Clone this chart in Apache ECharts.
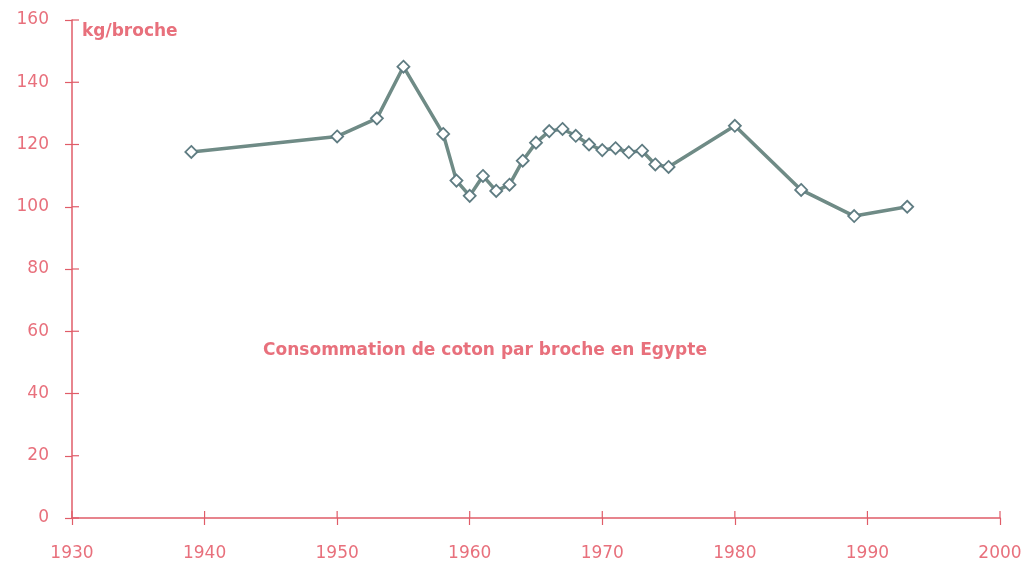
<!DOCTYPE html>
<html><head><meta charset="utf-8">
<script src="https://cdn.jsdelivr.net/npm/echarts@6/dist/echarts.min.js"></script>
<style>html,body{margin:0;padding:0;background:#fff}#c{width:1033px;height:563px}</style>
</head><body><div id="c"></div>
<script>
const years = [1939,1950,1953,1955,1958,1959,1960,1961,1962,1963,1964,1965,1966,1967,1968,1969,1970,1971,1972,1973,1974,1975,1980,1985,1989,1993];
const values = [117.6,122.6,128.4,145,123.4,108.4,103.5,109.9,105.1,107.1,114.8,120.6,124.3,125,122.8,120,118.2,118.8,117.5,118,113.6,112.8,126,105.4,97,100];
const xTicks = [1930,1940,1950,1960,1970,1980,1990,2000];
const yTicks = [0,20,40,60,80,100,120,140,160];
const titleText = 'Consommation de coton par broche en Egypte';
const unitText = 'kg/broche';

const pink = '#e8707c';
const axisCol = '#e05c68';
const font = 'DejaVu Sans';

const chart = echarts.init(document.getElementById('c'));
const L = 72, R = 33, T = 20, B = 45;
const tick = {show:true,length:7,lineStyle:{color:axisCol,width:1.2}};
const line = {show:true,onZero:false,lineStyle:{color:axisCol,width:1.5}};
// inner halves of the tick marks (ticks cross the axis line)
const innerTicks = xTicks.map(v=>[v,0,'x']).concat(yTicks.map(v=>[1930,v,'y']));
chart.setOption({
  animation:false,
  backgroundColor:'#fff',
  title:{text:titleText,left:480,top:337,textAlign:'center',
    textStyle:{color:pink,fontFamily:font,fontSize:17,fontWeight:'bold'}},
  grid:{left:L,right:R,top:T,bottom:B},
  xAxis:{type:'value',min:1930,max:2000,interval:10,
    axisLine:line,splitLine:{show:false},axisTick:tick,
    axisLabel:{color:pink,fontFamily:font,fontSize:17,margin:27,formatter:v=>xTicks.includes(v)?String(v):''}},
  yAxis:{type:'value',min:0,max:160,interval:20,
    axisLine:line,splitLine:{show:false},
    name:unitText,nameLocation:'end',nameGap:-12,
    nameTextStyle:{color:pink,fontFamily:font,fontSize:17,fontWeight:'bold',align:'left',verticalAlign:'middle',padding:[0,0,0,10]},
    axisTick:tick,
    axisLabel:{color:pink,fontFamily:font,fontSize:17,margin:23,formatter:v=>yTicks.includes(v)?String(v):''}},
  series:[{type:'custom',silent:true,clip:false,data:innerTicks,
    renderItem:(params,api)=>{
      const p = api.coord([api.value(0),api.value(1)]);
      const isX = innerTicks[params.dataIndex][2]==='x';
      const shape = isX ? {x1:p[0],y1:p[1],x2:p[0],y2:p[1]-7} : {x1:p[0],y1:p[1],x2:p[0]+7,y2:p[1]};
      return {type:'line',shape,style:{stroke:axisCol,lineWidth:1.2}};
    }},
   {type:'line',data:years.map((y,i)=>[y,values[i]]),
    lineStyle:{color:'#6f8b86',width:3.5},
    symbol:'diamond',symbolSize:12,showAllSymbol:true,
    itemStyle:{color:'#fff',borderColor:'#5f7c82',borderWidth:1.8}}]
});
</script></body></html>
